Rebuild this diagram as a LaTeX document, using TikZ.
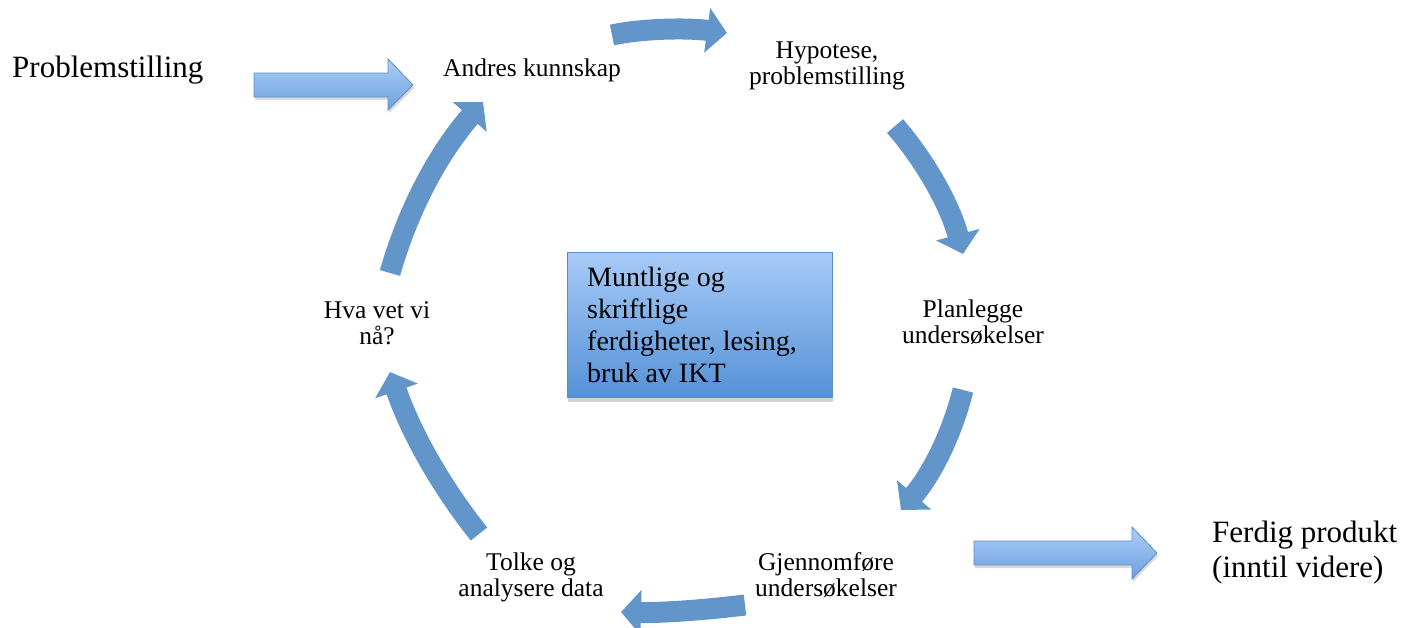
\documentclass[tikz,border=0pt]{standalone}
\usepackage{fontspec}
\setmainfont{Liberation Serif}
\usetikzlibrary{arrows.meta,shadows}
\definecolor{cyc}{RGB}{98,150,203}
\definecolor{blight}{RGB}{168,203,248}
\definecolor{bdark}{RGB}{84,145,214}
\definecolor{bborder}{RGB}{95,140,200}
\definecolor{alight}{RGB}{172,206,247}
\definecolor{adark}{RGB}{108,160,222}
\begin{document}
\begin{tikzpicture}[x=1pt,y=-1pt,
  lbl/.style={align=center, font=\fontsize{25.5}{26}\selectfont, inner sep=0pt, anchor=base},
  big/.style={align=left, font=\fontsize{31}{35}\selectfont, inner sep=0pt, anchor=base west},
  cycarrow/.style={line width=21pt, draw=cyc, -{Triangle[length=20pt,width=44pt]}},
  blockarrow/.style={draw=bborder, line width=0.8pt, top color=alight, bottom color=adark,
    drop shadow={shadow xshift=1pt, shadow yshift=-3pt, opacity=0.3}},
  ctrbox/.style={draw=bborder, line width=0.8pt, top color=blight, bottom color=bdark,
    minimum width=265pt, minimum height=145pt, inner sep=0pt,
    drop shadow={shadow xshift=1pt, shadow yshift=-4pt, opacity=0.35}}
]
\useasboundingbox (0,0) rectangle (1415,627);

% labels (base anchor = baseline of the last line)
\node[big] (prob) at (12,77) {Problemstilling};
\node[big] (ferdig) at (1212,577) {Ferdig produkt\\(inntil videre)};
\node[lbl] (andres) at (532,76) {Andres kunnskap};
\node[lbl] (hyp) at (827,84) {Hypotese,\\problemstilling};
\node[lbl] (plan) at (973,343) {Planlegge\\undersøkelser};
\node[lbl] (gjen) at (826,596) {Gjennomføre\\undersøkelser};
\node[lbl] (tolke) at (531,596) {Tolke og\\analysere data};
\node[lbl] (hva) at (377,344) {Hva vet vi\\nå?};

% centre box
\node[ctrbox] (ctr) at (699.5,325) {};
\node[align=left, anchor=base west, inner sep=0pt, font=\fontsize{28}{31.7}\selectfont]
  (ctrtext) at (587,382) {Muntlige og\\skriftlige\\ferdigheter, lesing,\\bruk av IKT};

% straight block arrows
\path[blockarrow] (254,73) -- (388,73) -- (388,59) -- (413,85) -- (388,110) -- (388,97) -- (254,97) -- cycle;
\path[blockarrow] (974,541) -- (1132,541) -- (1132,527) -- (1157,553) -- (1132,579) -- (1132,565) -- (974,565) -- cycle;

% cycle arrow end points
\coordinate (a1s) at (612,35);  \coordinate (a1e) at (727,33);
\coordinate (a2s) at (895,126); \coordinate (a2e) at (963,254);
\coordinate (a3s) at (963,390); \coordinate (a3e) at (901,510);
\coordinate (a4s) at (745,605); \coordinate (a4e) at (621,612);
\coordinate (a5s) at (479,534); \coordinate (a5e) at (390,372);
\coordinate (a6s) at (390,273); \coordinate (a6e) at (483,102);

\draw[cycarrow] (a1s) .. controls (645,28) and (690,28) .. (a1e);
\draw[cycarrow] (a2s) .. controls (927,163) and (950.5,207) .. (a2e);
\draw[cycarrow] (a3s) .. controls (951.8,434.9) and (931.2,474.9) .. (a3e);
\draw[cycarrow] (a4s) .. controls (704,610) and (662,613) .. (a4e);
\draw[cycarrow] (a5s) .. controls (439.9,485.1) and (410.3,431.1) .. (a5e);
\draw[cycarrow] (a6s) .. controls (408.1,209) and (439.1,152) .. (a6e);
\end{tikzpicture}
\end{document}
